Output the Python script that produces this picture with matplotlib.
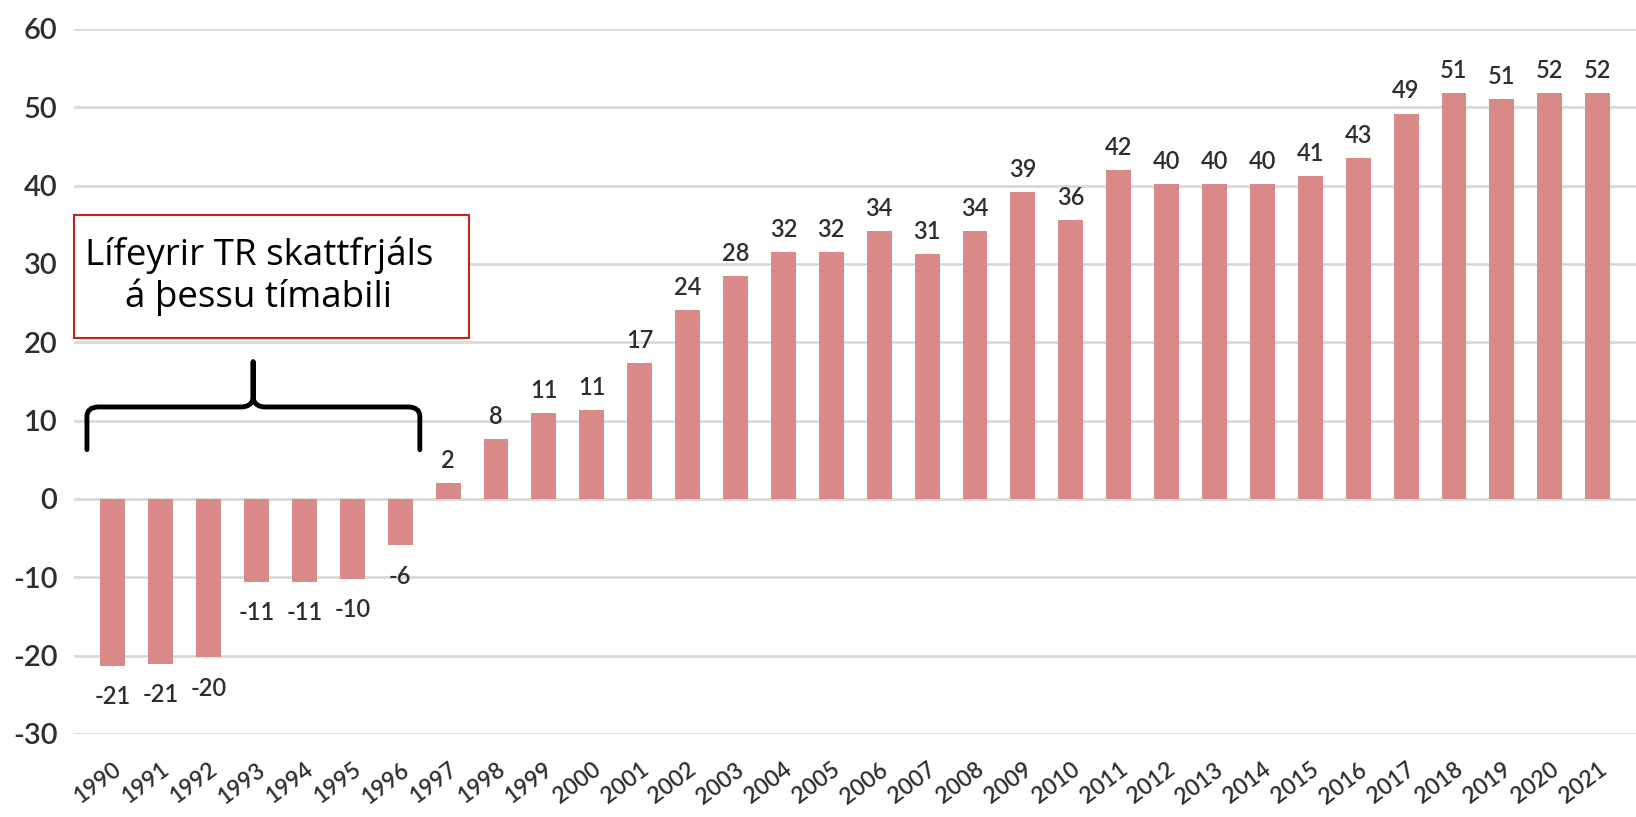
import matplotlib
matplotlib.use("Agg")
import matplotlib.pyplot as plt
from matplotlib.path import Path
from matplotlib.patches import PathPatch, Rectangle

years = [str(y) for y in range(1990, 2022)]
values = [-21.3, -21.0, -20.2, -10.6, -10.6, -10.2, -5.9, 2.0, 7.7, 11.0,
          11.4, 17.4, 24.1, 28.5, 31.5, 31.5, 34.2, 31.3, 34.2, 39.2,
          35.6, 42.0, 40.2, 40.2, 40.2, 41.2, 43.5, 49.2, 51.8, 51.1,
          51.8, 51.8]
labels = [-21, -21, -20, -11, -11, -10, -6, 2, 8, 11,
          11, 17, 24, 28, 32, 32, 34, 31, 34, 39,
          36, 42, 40, 40, 40, 41, 43, 49, 51, 51,
          52, 52]
yticks = [-30, -20, -10, 0, 10, 20, 30, 40, 50, 60]
note_text = "Lífeyrir TR skattfrjáls\ná þessu tímabili"

bar_color = "#d78a88"
text_color = "#2e2e2e"
num_font = ["Lato", "DejaVu Sans"]

fig = plt.figure(figsize=(16.36, 8.17), dpi=100)
ax = fig.add_axes([74 / 1636, 1 - 734 / 817, 1 - 74 / 1636, (734 - 29) / 817])

x = list(range(len(years)))
ax.bar(x, values, width=0.52, color=bar_color, zorder=2)

ax.set_ylim(-30, 60)
ax.set_xlim(-0.81, 31.8)
ax.set_yticks(yticks)
ax.set_yticklabels([str(t) for t in yticks], fontsize=21, color=text_color,
                   family=num_font, fontweight="semibold")
ax.set_xticks(x)
ax.set_xticklabels(years, rotation=37, ha="right", rotation_mode="anchor",
                   fontsize=16.5, color=text_color, family=num_font,
                   fontweight="semibold")
ax.tick_params(axis="both", length=0)
ax.tick_params(axis="y", pad=12)
ax.tick_params(axis="x", pad=18)
for s in ax.spines.values():
    s.set_visible(False)
ax.yaxis.grid(True, color="#d9d9d9", linewidth=2, zorder=0)
ax.set_axisbelow(True)

for xi, v, lab in zip(x, values, labels):
    if v >= 0:
        ax.annotate(str(lab), (xi, v), xytext=(0, 8), textcoords="offset points",
                    ha="center", va="bottom", fontsize=17, color=text_color,
                    family=num_font, fontweight="semibold")
    else:
        ax.annotate(str(lab), (xi, v), xytext=(0, -14), textcoords="offset points",
                    ha="center", va="top", fontsize=17, color=text_color,
                    family=num_font, fontweight="semibold")

# annotation box
box = Rectangle((-0.81, 20.6), 8.24, 15.7, facecolor="white", edgecolor="#cc1f1f",
                linewidth=1.5, zorder=4, clip_on=False)
ax.add_patch(box)
ax.text(3.05, 28.45, note_text, ha="center", va="center", fontsize=26.5,
        color="black", family=["Open Sans", "DejaVu Sans"], linespacing=1.15,
        zorder=5)

# curly brace
xl, xr, xm = -0.54, 6.41, 2.93
yb, yt, yp = 6.3, 11.75, 17.5
r = 0.25
verts = [
    (xl, yb), (xl, yt - 1.2), (xl, yt), (xl + r, yt),
    (xm - r, yt), (xm - 0.05, yt), (xm, yt + 1.0),
    (xm, yp),
    (xm, yt + 1.0), (xm + 0.05, yt), (xm + r, yt),
    (xr - r, yt), (xr, yt), (xr, yt - 1.2),
    (xr, yb),
]
codes = [Path.MOVETO, Path.LINETO, Path.CURVE3, Path.CURVE3,
         Path.LINETO, Path.CURVE3, Path.CURVE3,
         Path.LINETO,
         Path.LINETO, Path.CURVE3, Path.CURVE3,
         Path.LINETO, Path.CURVE3, Path.CURVE3,
         Path.LINETO]
brace = PathPatch(Path(verts, codes), facecolor="none", edgecolor="black",
                  linewidth=3.5, zorder=4, capstyle="round", joinstyle="round")
ax.add_patch(brace)

fig.savefig("out.png", dpi=100, facecolor="white")
